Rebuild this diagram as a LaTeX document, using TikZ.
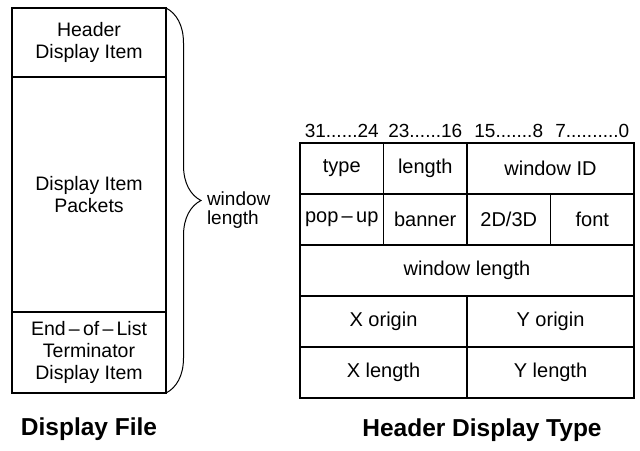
\documentclass[tikz,border=0pt]{standalone}
\usepackage{fontspec}
\setmainfont{Liberation Sans}
\usepackage{tikz}
\usetikzlibrary{positioning,calc,decorations.pathreplacing}

\begin{document}
\begin{tikzpicture}[
  x=1pt,y=-1pt,
  every node/.style={inner sep=0pt,outer sep=0pt},
  part/.style={draw,line width=1.3pt,minimum width=154pt,align=center,
               font=\fontsize{19.5}{22}\selectfont},
  cell/.style={draw,line width=1.3pt,minimum height=51pt,align=center,
               font=\fontsize{20}{22}\selectfont},
  quarter/.style={minimum width=83.5pt},
  half/.style={minimum width=167pt},
  full/.style={minimum width=334pt},
  bits/.style={anchor=south,font=\fontsize{19}{20}\selectfont},
  caption/.style={font=\fontsize{24.5}{26}\selectfont\bfseries},
  brc/.style={line width=1pt,decorate,decoration={brace,amplitude=35pt,aspect=0.5}}
]
\useasboundingbox (0,0) rectangle (640,450);

% display file
\node[part,minimum height=69pt,anchor=north west] (hdr) at (12,8) {Header\\Display Item};
\node[part,minimum height=235pt,below=0pt of hdr] (pkts) {Display Item\\Packets};
\node[part,minimum height=81pt,below=0pt of pkts] (eol) {End\,--\,of\,--\,List\\Terminator\\Display Item};
\draw[brc] (hdr.north east) -- (eol.south east);
\node[anchor=west,align=left,font=\fontsize{19}{19}\selectfont] (wlab)
  at ($(hdr.north east)!0.5!(eol.south east)+(41,10)$) {window\\length};
\node[caption] (dfcap) at ($(eol.south)+(0,36)$) {Display File};

% header display type
\node[cell,quarter,anchor=north west] (ctype) at (300,143) {type};
\node[cell,quarter,right=0pt of ctype] (clen) {length};
\node[cell,half,right=0pt of clen] (cwid) {window ID};
\node[cell,quarter,below=0pt of ctype] (cpop) {pop\,--\,up};
\node[cell,quarter,right=0pt of cpop] (cban) {banner};
\node[cell,quarter,right=0pt of cban] (cdim) {2D/3D};
\node[cell,quarter,right=0pt of cdim] (cfont) {font};
\node[cell,full,anchor=north west] (cwlen) at (cpop.south west) {window length};
\node[cell,half,anchor=north west] (cxo) at (cwlen.south west) {X origin};
\node[cell,half,right=0pt of cxo] (cyo) {Y origin};
\node[cell,half,below=0pt of cxo] (cxl) {X length};
\node[cell,half,right=0pt of cxl] (cyl) {Y length};

\node[bits] (b31) at ($(ctype.north)+(0,-5)$) {31......24};
\node[bits] (b23) at ($(clen.north)+(0,-5)$) {23......16};
\node[bits] (b15) at ($(cdim.north |- ctype.north)+(0,-5)$) {15.......8};
\node[bits] (b7) at ($(cfont.north |- ctype.north)+(0,-5)$) {7..........0};

\node[caption] (hdcap) at (482,430) {Header Display Type};
\end{tikzpicture}
\end{document}
